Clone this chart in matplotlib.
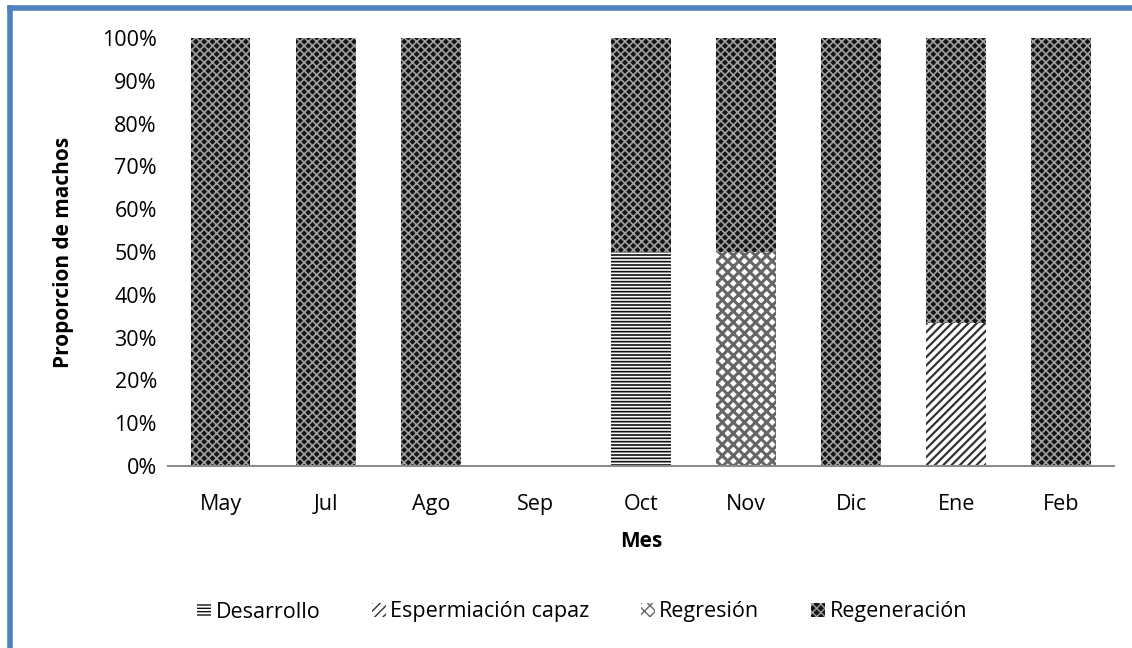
import numpy as np
import matplotlib
matplotlib.use("Agg")
import matplotlib.pyplot as plt
from matplotlib.patches import Patch

plt.rcParams['font.family'] = ['Open Sans', 'DejaVu Sans']

meses = ["May", "Jul", "Ago", "Sep", "Oct", "Nov", "Dic", "Ene", "Feb"]
desarrollo = [0, 0, 0, 0, 0.50, 0, 0, 0, 0]
espermiacion = [0, 0, 0, 0, 0, 0, 0, 0.333, 0]
regresion = [0, 0, 0, 0, 0, 0.50, 0, 0, 0]
regeneracion = [1.0, 1.0, 1.0, 0, 0.50, 0.50, 1.0, 0.667, 1.0]

series = [
    ("Desarrollo", desarrollo, "white", "#111111", "-" * 5, 1.2),
    ("Espermiación capaz", espermiacion, "white", "#333333", "////", 1.6),
    ("Regresión", regresion, "white", "#666666", "xxx", 2.2),
    ("Regeneración", regeneracion, "#151515", "#a0a0a0", "xxxx", 1.2),
]

fig = plt.figure(figsize=(11.32, 6.48), dpi=100)
ax = fig.add_axes([0.1484, 0.2809, 0.8356, 0.6605])

x = np.arange(len(meses))
bottom = np.zeros(len(meses))
handles = []
for name, vals, fc, hc, hatch, hlw in series:
    vals = np.array(vals)
    with plt.rc_context({'hatch.linewidth': hlw}):
        ax.bar(x, vals, width=0.57, bottom=bottom, color=fc, edgecolor=hc,
               hatch=hatch, linewidth=0)
        handles.append(Patch(facecolor=fc, edgecolor=hc, hatch=hatch, linewidth=0, label=name))
    bottom += vals

ax.set_xlim(-0.5, len(meses) - 0.5)
ax.set_ylim(0, 1)
ax.set_yticks(np.arange(0, 1.01, 0.1))
ax.set_yticklabels([f"{int(round(v*100))}%" for v in np.arange(0, 1.01, 0.1)])
ax.set_xticks(x)
ax.set_xticklabels(meses)
ax.tick_params(axis='both', length=0, labelsize=15.5, colors='black')
ax.tick_params(axis='x', pad=20)
ax.tick_params(axis='y', pad=8)
for s in ['top', 'right', 'left']:
    ax.spines[s].set_visible(False)
ax.spines['bottom'].set_color('#8c8c8c')
ax.spines['bottom'].set_linewidth(1.5)

ax.set_ylabel("Proporcion de machos", fontsize=15, fontweight='bold', labelpad=20)
ax.set_xlabel("Mes", fontsize=15, fontweight='bold', labelpad=12)

fig.legend(handles=handles, loc='center', bbox_to_anchor=(582 / 1132, 1 - 612 / 648),
           ncol=4, frameon=False, fontsize=15.5, handlelength=0.65, handleheight=0.65,
           handletextpad=0.2, columnspacing=2.4)

# blue frame (left and top edges visible)
fig.add_artist(plt.Line2D([10 / 1132, 10 / 1132], [0, 1 - 8 / 648], color='#4f81bd', lw=4,
                          transform=fig.transFigure))
fig.add_artist(plt.Line2D([10 / 1132, 1], [1 - 8 / 648, 1 - 8 / 648], color='#4f81bd', lw=4,
                          transform=fig.transFigure))

fig.savefig("out.png", dpi=100)
